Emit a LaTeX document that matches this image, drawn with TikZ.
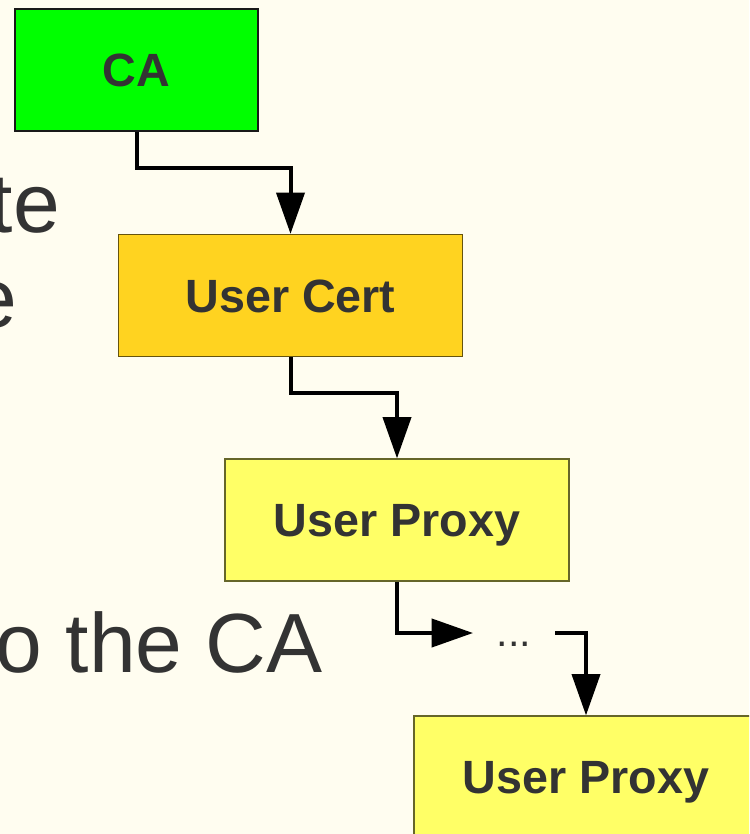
\documentclass[tikz,border=0pt]{standalone}
\usepackage{fontspec}
\setmainfont{Liberation Sans}
\usetikzlibrary{arrows.meta}

\definecolor{paper}{HTML}{FFFDF0}
\definecolor{ink}{HTML}{333333}
\definecolor{cagreen}{HTML}{00FF00}
\definecolor{certgold}{HTML}{FFD320}
\definecolor{proxyyellow}{HTML}{FFFF66}

\begin{document}
\begin{tikzpicture}[
    x=0.75pt, y=-0.75pt,
    every node/.style={text=ink},
    box/.style={rectangle, draw=black!85, line width=0.9pt,
        minimum width=258pt, minimum height=91.5pt, inner sep=0pt,
        text height=25pt, text depth=0pt,
        font=\fontsize{35}{42}\selectfont\bfseries},
    link/.style={line width=3pt, -{Triangle[length=31pt, width=21pt]}},
    bigtext/.style={font=\fontsize{63}{76}\selectfont, anchor=base east, inner sep=0pt},
]

% Page and background
\useasboundingbox (0,0) rectangle (749,834);
\fill[paper] (0,0) rectangle (749,834);

% Slide text running off the left edge
\begin{scope}
\clip (0,0) rectangle (749,834);
\node[bigtext] (line1) at (60,233) {te};
\node[bigtext] (line2) at (17,327) {e};
\node[bigtext] (line3) at (323,672) {o the CA};

% Certificate chain
\node[box, fill=cagreen, draw=black!90, minimum width=182.25pt] (ca) at (136.5,70) {CA};
\node[box, fill=certgold, draw=certgold!40!black] (cert) at (290.5,295.5) {User Cert};
\node[box, fill=proxyyellow, draw=proxyyellow!40!black] (proxyA) at (397,520) {User Proxy};
\node[box, fill=proxyyellow, draw=proxyyellow!40!black] (proxyB) at (586,777) {User Proxy};
\node[font=\fontsize{31}{36}\selectfont, text height=19.5pt, text depth=0pt,
    minimum width=61.5pt, inner sep=0pt, outer sep=0pt] (dots) at (514,633) {...};

% Links
\draw[link] (ca.south) -- ++(0,36) -| (cert.north);
\draw[link] (cert.south) -- ++(0,36) -| (proxyA.north);
\draw[link] (proxyA.south) |- (dots.west);
\draw[link] (dots.east) -| (proxyB.north);
\end{scope}

\end{tikzpicture}
\end{document}
